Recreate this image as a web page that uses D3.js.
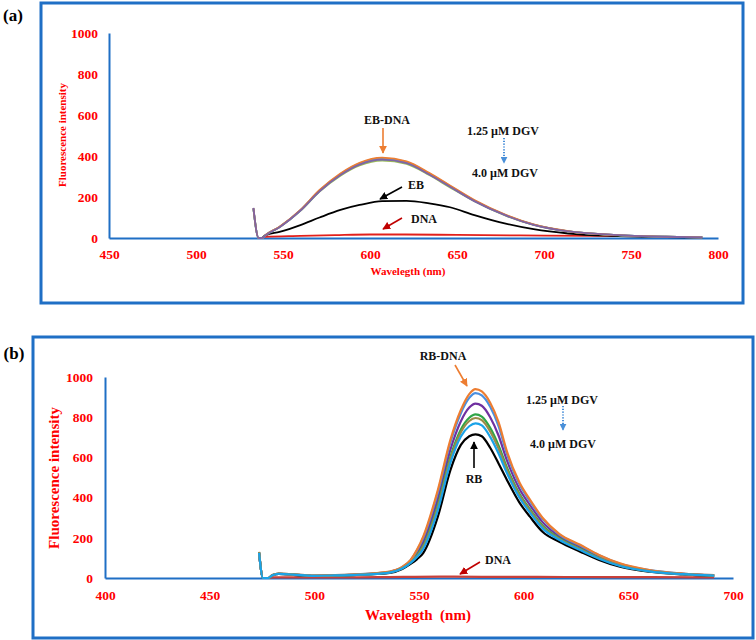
<!DOCTYPE html>
<html>
<head>
<meta charset="utf-8">
<script src="https://cdnjs.cloudflare.com/ajax/libs/d3/7.8.5/d3.min.js"></script>
<style>
  body { margin: 0; background: #fff; }
  svg text { font-family: "Liberation Serif", "Times New Roman", serif; font-weight: bold; }
</style>
</head>
<body>
<svg id="chart" width="756" height="640"></svg>
<script>
// ---------- panel (a): EB displacement ----------
const xTicksA = [450, 500, 550, 600, 650, 700, 750, 800];
const yTicks = [0, 200, 400, 600, 800, 1000];

const wlA = [533, 536, 538, 540, 548, 560, 571, 583, 594, 607, 621, 634, 646, 660, 678, 694, 714, 740, 770, 791];
const ebDnaOrangeA = [146, 0, 0, 15, 55, 137, 234, 315, 367, 392, 374, 318, 256, 185, 113, 66, 33, 15, 6, 3];
const dgvGrayA     = [145, 0, 0, 15, 54, 136, 232, 312, 364, 389, 371, 315, 254, 183, 112, 65, 33, 15, 6, 3];
const dgvBlueA     = [144, 0, 0, 14, 54, 135, 231, 310, 362, 386, 369, 314, 252, 182, 111, 65, 32, 15, 6, 3];
const dgvTealA     = [143, 0, 0, 14, 54, 134, 229, 309, 360, 384, 367, 312, 251, 181, 111, 65, 32, 15, 6, 3];
const dgvPurpleA   = [147, 0, 0, 14, 53, 134, 228, 307, 358, 382, 365, 310, 250, 180, 110, 64, 32, 15, 6, 3];
const dgvGreenA    = [142, 0, 0, 14, 53, 132, 226, 304, 354, 378, 361, 307, 247, 179, 109, 64, 32, 14, 6, 3];

const wlEbA = [538, 540, 548, 560, 571, 583, 594, 607, 621, 634, 646, 660, 678, 694, 714, 740, 770, 791];
const ebA   = [0, 14, 30, 63, 100, 137, 161, 180, 181, 169, 150, 112, 70, 43, 22, 10, 4, 2];

const wlDnaA = [538, 540, 560, 580, 600, 620, 650, 700, 751];
const dnaA   = [0, 6, 10, 14, 17, 17, 15, 12, 9];

// ---------- panel (b): RB displacement ----------
const xTicksB = [400, 450, 500, 550, 600, 650, 700];

const wlB = [473.6, 475.5, 478, 480, 483, 490, 500, 510, 520, 530, 536, 542, 546, 549, 552, 559, 565, 570, 574, 577, 580, 584, 588, 592, 598, 603, 609, 617, 627, 636, 646, 660, 676, 691];
const rbDnaOrangeB = [128, 0, 0, 15, 22, 18, 12, 14, 18, 25, 32, 55, 90, 140, 206, 438, 687, 836, 915, 940, 928, 872, 775, 630, 475, 390, 300, 220, 165, 115, 73, 40, 22, 14];
const dgvBlueB     = [127, 0, 0, 15, 22, 18, 12, 14, 18, 24, 31, 54, 88, 136, 199, 426, 674, 820, 896, 920, 908, 852, 756, 617, 466, 382, 294, 216, 162, 113, 71, 39, 22, 14];
const dgvPurpleB   = [126, 0, 0, 14, 21, 17, 11, 13, 17, 23, 30, 52, 84, 125, 180, 395, 639, 780, 848, 868, 857, 800, 709, 585, 443, 363, 278, 207, 154, 107, 68, 37, 21, 13];
const dgvGreenB    = [127, 0, 0, 14, 21, 17, 11, 13, 17, 22, 29, 49, 79, 113, 160, 364, 603, 739, 797, 814, 803, 747, 660, 550, 419, 342, 261, 198, 146, 101, 63, 35, 20, 12];
const dgvOliveB    = [130, 0, 0, 15, 22, 18, 11, 13, 16, 22, 28, 49, 77, 109, 154, 353, 591, 725, 781, 796, 785, 729, 644, 539, 411, 336, 255, 194, 143, 99, 62, 34, 19, 12];
const dgvSkyB      = [125, 0, 0, 14, 21, 17, 11, 13, 16, 21, 27, 47, 75, 104, 144, 337, 573, 704, 755, 769, 759, 702, 619, 522, 399, 325, 247, 190, 139, 96, 60, 33, 19, 12];
const rbB          = [125, 0, 0, 14, 20, 16, 10, 12, 15, 20, 25, 45, 70, 93, 124, 305, 537, 662, 705, 715, 705, 648, 570, 488, 375, 305, 230, 180, 131, 90, 56, 31, 18, 11];

const wlDnaB = [478, 480, 500, 530, 560, 580, 620, 660, 691];
const dnaB   = [0, 3, 3, 4, 7, 6, 5, 4, 3];

const svg = d3.select('#chart');
const defs = svg.append('defs');
const BLUE = '#1F6FC5';
const RED = '#FF0000';

function zip(xs, ys) { return xs.map((x, i) => ({x, y: ys[i]})); }

function drawPanel(cfg) {
  const g = svg.append('g');
  // frame
  g.append('rect')
    .attr('x', cfg.box[0]).attr('y', cfg.box[1])
    .attr('width', cfg.box[2]).attr('height', cfg.box[3])
    .attr('fill', 'none').attr('stroke', BLUE).attr('stroke-width', 3);
  g.append('text')
    .attr('x', cfg.label[0]).attr('y', cfg.label[1])
    .attr('font-size', 17).attr('dominant-baseline', 'central')
    .attr('text-anchor', 'middle').text(cfg.labelText);

  const x = d3.scaleLinear().domain(cfg.xDomain).range(cfg.xRange);
  const y = d3.scaleLinear().domain([0, 1000]).range(cfg.yRange);

  const xAxis = g.append('g')
    .attr('transform', `translate(0,${cfg.yRange[0]})`)
    .call(d3.axisBottom(x).tickValues(cfg.xTicks).tickFormat(d3.format('d'))
      .tickSize(0).tickSizeOuter(0).tickPadding(cfg.xPad));
  const yAxis = g.append('g')
    .attr('transform', `translate(${cfg.xRange[0]},0)`)
    .call(d3.axisLeft(y).tickValues(yTicks).tickFormat(d3.format('d'))
      .tickSize(0).tickSizeOuter(0).tickPadding(cfg.yPad));
  [xAxis, yAxis].forEach(a => {
    a.select('.domain').attr('stroke', BLUE).attr('stroke-width', 2);
    a.selectAll('text')
      .attr('fill', RED)
      .attr('font-size', 13.5)
      .style('font-family', '"Liberation Serif", serif').style('font-weight', 'bold');
  });

  // axis titles
  g.append('text')
    .attr('transform', `translate(${cfg.yTitle[0]},${cfg.yTitle[1]}) rotate(-90)`)
    .attr('text-anchor', 'middle').attr('dominant-baseline', 'central')
    .attr('font-size', cfg.yTitleSize).attr('fill', RED)
    .text('Fluorescence intensity');
  g.append('text')
    .attr('x', cfg.xTitle[0]).attr('y', cfg.xTitle[1])
    .attr('text-anchor', 'middle').attr('dominant-baseline', 'central')
    .attr('font-size', cfg.xTitleSize).attr('fill', RED)
    .attr('xml:space', 'preserve')
    .text(cfg.xTitleText);

  const line = d3.line().x(d => x(d.x)).y(d => y(d.y)).curve(d3.curveMonotoneX);
  cfg.series.forEach(s => {
    g.append('path')
      .datum(zip(s.wl, s.values))
      .attr('d', line)
      .attr('fill', 'none')
      .attr('stroke', s.color)
      .attr('stroke-width', cfg.lineWidth)
      .attr('stroke-linejoin', 'round');
  });

  // annotations
  cfg.notes.forEach(n => {
    g.append('text')
      .attr('x', n.x).attr('y', n.y)
      .attr('text-anchor', 'middle').attr('dominant-baseline', 'central')
      .attr('font-size', 12).attr('fill', '#111')
      .text(n.text);
  });
  cfg.arrows.forEach((a, i) => {
    const id = `head-${cfg.labelText.replace(/\W/g, '')}-${i}`;
    defs.append('marker')
      .attr('id', id).attr('viewBox', '0 0 10 10')
      .attr('refX', 9).attr('refY', 5)
      .attr('markerWidth', a.dash ? 3.5 : 5).attr('markerHeight', a.dash ? 3.5 : 5)
      .attr('markerUnits', 'strokeWidth')
      .attr('orient', 'auto')
      .append('path').attr('d', 'M0,0 L10,5 L0,10 z').attr('fill', a.color);
    g.append('line')
      .attr('x1', a.from[0]).attr('y1', a.from[1])
      .attr('x2', a.to[0]).attr('y2', a.to[1])
      .attr('stroke', a.color).attr('stroke-width', a.dash ? 2 : 1.6)
      .attr('stroke-dasharray', a.dash ? '1.2,1.6' : null)
      .attr('marker-end', `url(#${id})`);
  });
}

drawPanel({
  box: [41, 3, 702, 300], label: [13, 15], labelText: '(a)',
  xDomain: [450, 800], xRange: [109, 718], yRange: [238, 33],
  xTicks: xTicksA, xPad: 11, yPad: 11,
  yTitle: [62, 135], yTitleSize: 11,
  xTitle: [408, 271], xTitleSize: 11, xTitleText: 'Wavelegth (nm)',
  lineWidth: 1.8,
  series: [
    {wl: wlDnaA, values: dnaA, color: '#E3201B'},
    {wl: wlEbA, values: ebA, color: '#000000'},
    {wl: wlA, values: dgvGrayA, color: '#A8B4C8'},
    {wl: wlA, values: dgvGreenA, color: '#9BBB59'},
    {wl: wlA, values: dgvTealA, color: '#4BACC6'},
    {wl: wlA, values: dgvBlueA, color: '#5B9BD5'},
    {wl: wlA, values: ebDnaOrangeA, color: '#ED7D31'},
    {wl: wlA, values: dgvPurpleA, color: '#8064A2'}
  ],
  notes: [
    {x: 387, y: 120, text: 'EB-DNA'},
    {x: 503, y: 131, text: '1.25 µM DGV'},
    {x: 505, y: 173, text: '4.0 µM DGV'},
    {x: 416, y: 185, text: 'EB'},
    {x: 424, y: 219, text: 'DNA'}
  ],
  arrows: [
    {from: [383, 128], to: [383, 153], color: '#ED7D31'},
    {from: [504, 138], to: [504, 163], color: '#4A90D9', dash: true},
    {from: [402, 187], to: [380, 199], color: '#000000'},
    {from: [402, 218], to: [383, 229], color: '#C00000'}
  ]
});

drawPanel({
  box: [33, 337, 720, 301], label: [14, 353], labelText: '(b)',
  xDomain: [400, 700], xRange: [105, 733], yRange: [578, 377],
  xTicks: xTicksB, xPad: 12, yPad: 12,
  yTitle: [54, 478], yTitleSize: 15,
  xTitle: [418, 615], xTitleSize: 15, xTitleText: 'Wavelegth  (nm)',
  lineWidth: 2.2,
  series: [
    {wl: wlDnaB, values: dnaB, color: '#C8403A'},
    {wl: wlB, values: rbB, color: '#000000'},
    {wl: wlB, values: dgvPurpleB, color: '#7030A0'},
    {wl: wlB, values: dgvGreenB, color: '#2FA548'},
    {wl: wlB, values: dgvBlueB, color: '#4A8FE0'},
    {wl: wlB, values: rbDnaOrangeB, color: '#ED7D31'},
    {wl: wlB, values: dgvOliveB, color: '#9A8B48'},
    {wl: wlB, values: dgvSkyB, color: '#1AA3E8'}
  ],
  notes: [
    {x: 443, y: 356, text: 'RB-DNA'},
    {x: 562, y: 400, text: '1.25 µM DGV'},
    {x: 563, y: 444, text: '4.0 µM DGV'},
    {x: 474, y: 479, text: 'RB'},
    {x: 498, y: 560, text: 'DNA'}
  ],
  arrows: [
    {from: [455, 365], to: [467, 386], color: '#ED7D31'},
    {from: [563, 406], to: [563, 430], color: '#4A90D9', dash: true},
    {from: [474, 468], to: [474, 442], color: '#000000'},
    {from: [480, 562], to: [460, 574], color: '#C00000'}
  ]
});
</script>
</body>
</html>
